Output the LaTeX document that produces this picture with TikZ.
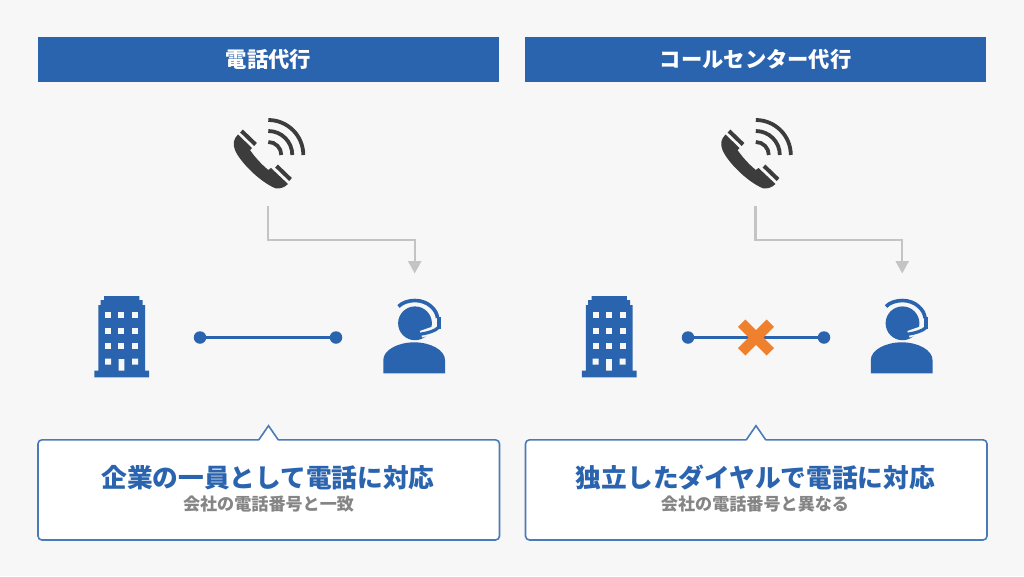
\documentclass[tikz,border=0pt]{standalone}
\usepackage{fontspec}
\setmainfont{Noto Sans CJK JP}
\usetikzlibrary{arrows.meta,calc}
\definecolor{bgc}{HTML}{F7F7F7}
\definecolor{bluec}{HTML}{2B64AE}
\definecolor{framec}{HTML}{4A7AB8}
\definecolor{greyl}{HTML}{C4C4C4}
\definecolor{darkc}{HTML}{3C3C3C}
\definecolor{orangec}{HTML}{EF812E}
\definecolor{subc}{HTML}{858585}
\tikzset{
  headerbox/.style={fill=bluec,text=white,minimum width=461pt,minimum height=45pt,inner sep=0pt,font=\fontsize{21.3}{21}\selectfont\bfseries},
  headline/.style={text=bluec,inner sep=0pt,font=\fontsize{25.7}{26}\selectfont\bfseries},
  subline/.style={text=subc,inner sep=0pt,font=\fontsize{17.1}{17}\selectfont\bfseries},
  dotnode/.style={circle,fill=bluec,minimum size=12.5pt,inner sep=0pt},
  linkline/.style={draw=bluec,line width=2.2pt},
  elbow/.style={draw=greyl,line width=2.4pt,-{Triangle[length=12.5pt,width=13pt]}},
  framebox/.style={draw=framec,fill=white,line width=1.6pt,rounded corners=4pt},
  wave/.style={draw=darkc,line width=3.8pt}
}
\newcommand{\qarc}[1]{(268.3,155-#1) .. controls (268.3+0.5523*#1,155-#1) and (268.3+#1,155-0.5523*#1) .. (268.3+#1,155)}
\newcommand{\panelart}[3]{%
\begin{scope}[xshift=#1]
  % phone
  \fill[darkc] (238,134.5) -- (252,148) -- (250,150) .. controls (254,156) and (261,164) .. (268.3,170)
     -- (271,168) -- (288,184) .. controls (284,188) and (279,189) .. (275.5,188.3)
     .. controls (260,182) and (240,162) .. (235,150) .. controls (232.5,144) and (233.5,139) .. (238,134.5) -- cycle;
  \draw[darkc,line width=4pt] (241.5,131) -- (255.5,144.5);
  \draw[darkc,line width=4pt] (276.5,166) -- (290.5,179.5);
  \foreach \r in {13,24,35} {\draw[wave] \qarc{\r};}
  % building
  \fill[bluec] (104,296) rectangle (139.3,301) (100.7,300) rectangle (142.7,307) (98.3,305) rectangle (145,372) (94.3,370.7) rectangle (149,377.3);
  \foreach \xx in {108,121.3,135} \foreach \yy in {315,330.7,346.3} {\fill[bgc] (\xx-3,\yy-3) rectangle (\xx+3,\yy+3);}
  \fill[bgc] (105,358.7) rectangle (111,364.7) (132,358.7) rectangle (138,364.7) (118.7,359) rectangle (124.3,370.7);
  % agent
  \fill[bluec] (415,323.3) circle (16.9pt);
  \fill[bluec] (383.3,373.3) -- (383.3,360) .. controls (383.3,350) and (398,342.3) .. (414.2,342.3) .. controls (430.4,342.3) and (445,350) .. (445,360) -- (445,373.3) -- cycle;
  \draw[bgc,line width=7pt] (437.5,328.5) -- (421,334.3);
  \draw[bluec,line width=3.2pt,line cap=round] (438.5,327.5) .. controls (435,331) and (428,333) .. (420.5,334.2);
  \draw[bluec,line width=3.6pt] (398.5,306.5) .. controls (402,302.5) and (409,300.5) .. (415,300.5) .. controls (428,300.5) and (437,310) .. (437.5,318);
  \fill[bluec] (436.5,317) rectangle (440.7,328.5);
  % connectors
  \coordinate (#2phone) at (268,206);
  \coordinate (#2bend) at (414.7,240);
  \coordinate (#2agent) at (414.7,273.5);
  \draw[elbow] (#2phone) |- (#2bend) -- (#2agent);
  % callout
  \path[framebox] (38,439.8) rectangle (499.5,540);
  \fill[white] (#3-9.7,441) -- (#3,425.7) -- (#3+9.7,441) -- cycle;
  \draw[framec,line width=1.6pt,line join=miter] (#3-9.7,439.8) -- (#3,425.7) -- (#3+9.7,439.8);
\end{scope}}
\begin{document}
\begin{tikzpicture}[x=1pt,y=-1pt]
\fill[bgc] (0,0) rectangle (1024,576);
\useasboundingbox (0,0) rectangle (1024,576);

\panelart{0pt}{l}{268.5}
\panelart{487.5pt}{r}{268.5}

\node[headerbox] (lhead) at (268.5,59.3) {電話代行};
\node[headerbox] (rhead) at (755.7,59.3) {コールセンター代行};

\node[dotnode] (la) at (200,337.5) {};
\node[dotnode] (lb) at (336,337.5) {};
\draw[linkline] (la) -- (lb);

\node[dotnode] (ra) at (688,337.5) {};
\node[dotnode] (rb) at (824,337.5) {};
\draw[linkline] (ra) -- (rb);
\draw[orangec,line width=10.5pt] (741.7,323.2) -- (770.3,351.8) (741.7,351.8) -- (770.3,323.2);

\node[headline] (lt) at (268,478) {企業の一員として電話に対応};
\node[subline] (ls) at (268.5,504) {会社の電話番号と一致};
\node[headline] (rt) at (755.5,478) {独立したダイヤルで電話に対応};
\node[subline] (rs) at (755,504) {会社の電話番号と異なる};
\end{tikzpicture}
\end{document}
